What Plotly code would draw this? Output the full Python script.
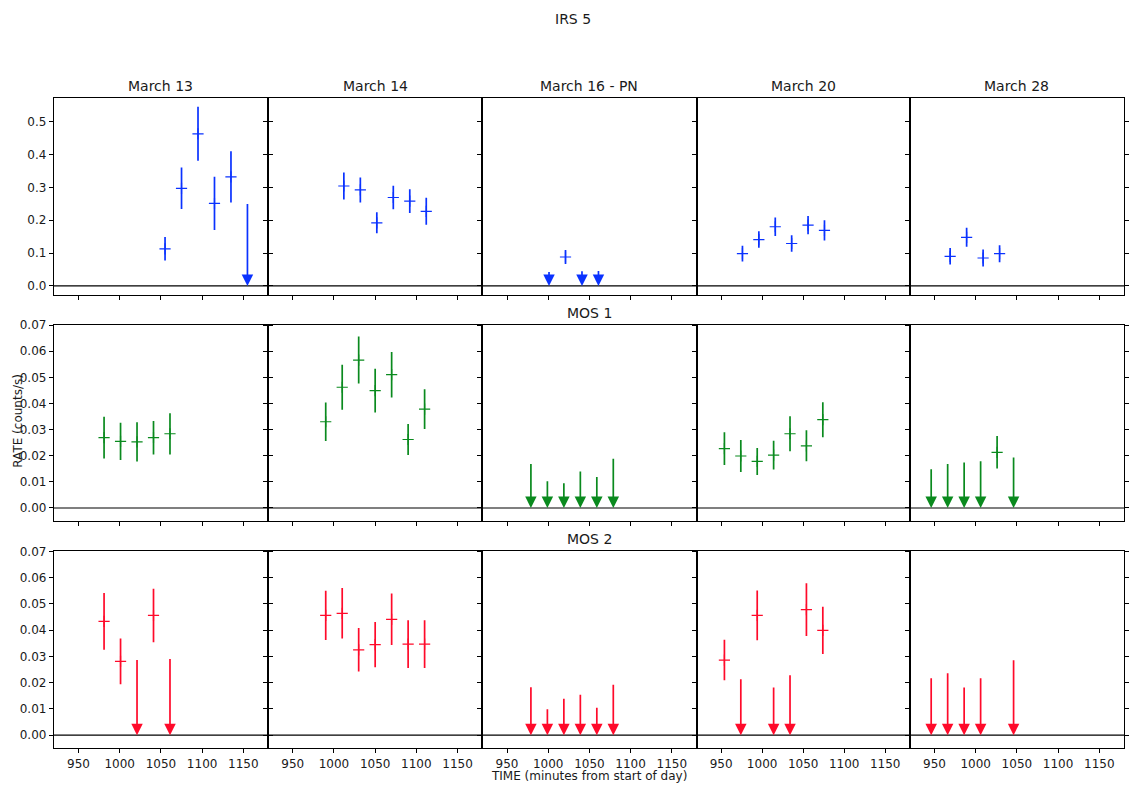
import plotly.graph_objects as go

# ---- observation panels -------------------------------------------------
DATES = ["March 13", "March 14", "March 16 - PN", "March 20", "March 28"]
SUPTITLE = "IRS 5"
ROW_TITLES = ["", "MOS 1", "MOS 2"]
X_LABEL = "TIME (minutes from start of day)"
Y_LABEL = "RATE (counts/s)"
X_TICKS = [950, 1000, 1050, 1100, 1150]

# PN camera: time (min), rate (counts/s), 1-sigma error (None = upper limit)
PN_TIME = [
    [1055, 1075, 1095, 1115, 1135, 1155],
    [1012, 1032, 1052, 1072, 1092, 1112],
    [1001, 1021, 1041, 1061],
    [976, 996, 1016, 1036, 1056, 1076],
    [969, 989, 1009, 1029],
]
PN_RATE = [
    [0.113, 0.297, 0.463, 0.251, 0.332, 0.254],
    [0.304, 0.292, 0.192, 0.269, 0.258, 0.227],
    [0.047, 0.088, 0.049, 0.050],
    [0.098, 0.141, 0.180, 0.129, 0.185, 0.169],
    [0.090, 0.148, 0.085, 0.098],
]
PN_ERR = [
    [0.036, 0.063, 0.082, 0.081, 0.078, None],
    [0.041, 0.038, 0.032, 0.036, 0.036, 0.041],
    [None, 0.021, None, None],
    [0.024, 0.025, 0.028, 0.025, 0.028, 0.031],
    [0.025, 0.029, 0.026, 0.026],
]

# MOS 1 camera
MOS1_TIME = [
    [981, 1001, 1021, 1041, 1061],
    [990, 1010, 1030, 1050, 1070, 1090, 1110],
    [979, 999, 1019, 1039, 1059, 1079],
    [954, 974, 994, 1014, 1034, 1054, 1074],
    [946, 966, 986, 1006, 1026, 1046],
]
MOS1_RATE = [
    [0.0269, 0.0255, 0.0253, 0.0269, 0.0284],
    [0.0330, 0.0462, 0.0566, 0.0449, 0.0510, 0.0262, 0.0378],
    [0.0174, 0.0108, 0.0100, 0.0145, 0.0124, 0.0194],
    [0.0227, 0.0199, 0.0178, 0.0202, 0.0284, 0.0238, 0.0338],
    [0.0154, 0.0174, 0.0180, 0.0185, 0.0213, 0.0199],
]
MOS1_ERR = [
    [0.0080, 0.0071, 0.0075, 0.0064, 0.0079],
    [0.0074, 0.0086, 0.0090, 0.0084, 0.0087, 0.0059, 0.0076],
    [None, None, None, None, None, None],
    [0.0063, 0.0061, 0.0052, 0.0055, 0.0067, 0.0059, 0.0067],
    [None, None, None, None, 0.0062, None],
]

# MOS 2 camera
MOS2_TIME = [
    [981, 1001, 1021, 1041, 1061],
    [990, 1010, 1030, 1050, 1070, 1090, 1110],
    [979, 999, 1019, 1039, 1059, 1079],
    [954, 974, 994, 1014, 1034, 1054, 1074],
    [946, 966, 986, 1006, 1046],
]
MOS2_RATE = [
    [0.0433, 0.0281, 0.0292, 0.0456, 0.0296],
    [0.0456, 0.0464, 0.0325, 0.0345, 0.0441, 0.0347, 0.0347],
    [0.0188, 0.0104, 0.0144, 0.0160, 0.0110, 0.0198],
    [0.0286, 0.0219, 0.0456, 0.0187, 0.0234, 0.0478, 0.0399],
    [0.0222, 0.0241, 0.0187, 0.0222, 0.0291],
]
MOS2_ERR = [
    [0.0108, 0.0087, None, 0.0102, None],
    [0.0094, 0.0096, 0.0083, 0.0086, 0.0098, 0.0091, 0.0091],
    [None, None, None, None, None, None],
    [0.0077, None, 0.0095, None, None, 0.0100, 0.0090],
    [None, None, None, None, None],
]

ROWS = [
    (PN_TIME, PN_RATE, PN_ERR, "#0a32ff", [-0.027, 0.571], 0.1, ".1f"),
    (MOS1_TIME, MOS1_RATE, MOS1_ERR, "#0a8a1e", [-0.005, 0.0702], 0.01, ".2f"),
    (MOS2_TIME, MOS2_RATE, MOS2_ERR, "#ff0a2a", [-0.005, 0.0702], 0.01, ".2f"),
]

# ---- geometry (pixels) -------------------------------------------------
W, H = 1129, 787
COL_EDGES = [54, 269, 484, 699, 913, 1128]
ROW_SPANS = [(93, 291), (321, 519), (549, 748)]
FONT = "DejaVu Sans"
TXT = "#1a1a1a"


def px_x(p):
    return p / W


def px_y(p):
    return 1 - p / H


fig = go.Figure()
layout = {}
annotations = []
shapes = []

for r, (times, rates, errs, color, yrange, dtick, fmt) in enumerate(ROWS):
    top, bot = ROW_SPANS[r]
    for c in range(5):
        n = r * 5 + c + 1
        xa = "xaxis" if n == 1 else f"xaxis{n}"
        ya = "yaxis" if n == 1 else f"yaxis{n}"
        xr = "x" if n == 1 else f"x{n}"
        yr = "y" if n == 1 else f"y{n}"

        layout[xa] = dict(
            domain=[px_x(COL_EDGES[c]), px_x(COL_EDGES[c + 1])],
            anchor=yr, range=[920, 1180], tickvals=X_TICKS,
            ticks="outside", ticklen=4, tickcolor="black", tickwidth=1,
            showticklabels=(r == 2), showline=True, mirror=True,
            linecolor="black", linewidth=1, showgrid=False, zeroline=False,
            tickfont=dict(family=FONT, size=12, color=TXT),
        )
        layout[ya] = dict(
            domain=[px_y(bot), px_y(top)], anchor=xr, range=yrange,
            dtick=dtick, tick0=0, tickformat=fmt,
            ticks="outside", ticklen=4, tickcolor="black", tickwidth=1,
            showticklabels=(c == 0), showline=True,
            mirror="ticks" if c in (0, 4) else True,
            linecolor="black", linewidth=1, showgrid=False, zeroline=False,
            tickfont=dict(family=FONT, size=12, color=TXT),
        )

        # zero reference line
        shapes.append(dict(type="line", xref=f"{xr} domain", x0=0, x1=1,
                           yref=yr, y0=0, y1=0,
                           line=dict(color="black", width=1.2)))

        t, v, e = times[c], rates[c], errs[c]
        det_t = [ti for ti, ei in zip(t, e) if ei is not None]
        det_v = [vi for vi, ei in zip(v, e) if ei is not None]
        det_e = [ei for ei in e if ei is not None]
        if det_t:
            fig.add_trace(go.Scatter(
                x=det_t, y=det_v, mode="markers", xaxis=xr, yaxis=yr,
                marker=dict(symbol="cross-thin", size=8, color=color,
                            line=dict(color=color, width=1.2)),
                error_y=dict(type="data", array=det_e, visible=True,
                             color=color, thickness=1.7, width=0),
                showlegend=False, hoverinfo="skip",
            ))
        # upper limits: arrow from the limit down to zero
        for ti, vi, ei in zip(t, v, e):
            if ei is None:
                annotations.append(dict(
                    x=ti, y=0, ax=ti, ay=vi, xref=xr, yref=yr,
                    axref=xr, ayref=yr, text="", showarrow=True,
                    arrowhead=2, arrowsize=1.35, arrowwidth=1.7,
                    arrowcolor=color, standoff=0,
                ))

# panel titles
for c, name in enumerate(DATES):
    annotations.append(dict(
        x=px_x((COL_EDGES[c] + COL_EDGES[c + 1]) / 2), y=px_y(81),
        xref="paper", yref="paper", text=name, showarrow=False,
        font=dict(family=FONT, size=14, color=TXT),
        xanchor="center", yanchor="middle",
    ))
for r, name in enumerate(ROW_TITLES):
    if name:
        annotations.append(dict(
            x=px_x((COL_EDGES[2] + COL_EDGES[3]) / 2),
            y=px_y(ROW_SPANS[r][0] - 12),
            xref="paper", yref="paper", text=name, showarrow=False,
            font=dict(family=FONT, size=14, color=TXT),
            xanchor="center", yanchor="middle",
        ))

annotations.append(dict(
    x=px_x(575), y=px_y(13), xref="paper", yref="paper", text=SUPTITLE,
    showarrow=False, font=dict(family=FONT, size=14, color=TXT),
    xanchor="center", yanchor="middle",
))
annotations.append(dict(
    x=px_x(591), y=px_y(776), xref="paper", yref="paper", text=X_LABEL,
    showarrow=False, font=dict(family=FONT, size=12, color=TXT),
    xanchor="center", yanchor="middle",
))
annotations.append(dict(
    x=px_x(18), y=px_y(418), xref="paper", yref="paper", text=Y_LABEL,
    showarrow=False, textangle=-90, font=dict(family=FONT, size=12, color=TXT),
    xanchor="center", yanchor="middle",
))

fig.update_layout(
    width=W, height=H, margin=dict(l=0, r=0, t=0, b=0),
    paper_bgcolor="white", plot_bgcolor="white",
    annotations=annotations, shapes=shapes, **layout,
)

fig.write_html("out.html")
